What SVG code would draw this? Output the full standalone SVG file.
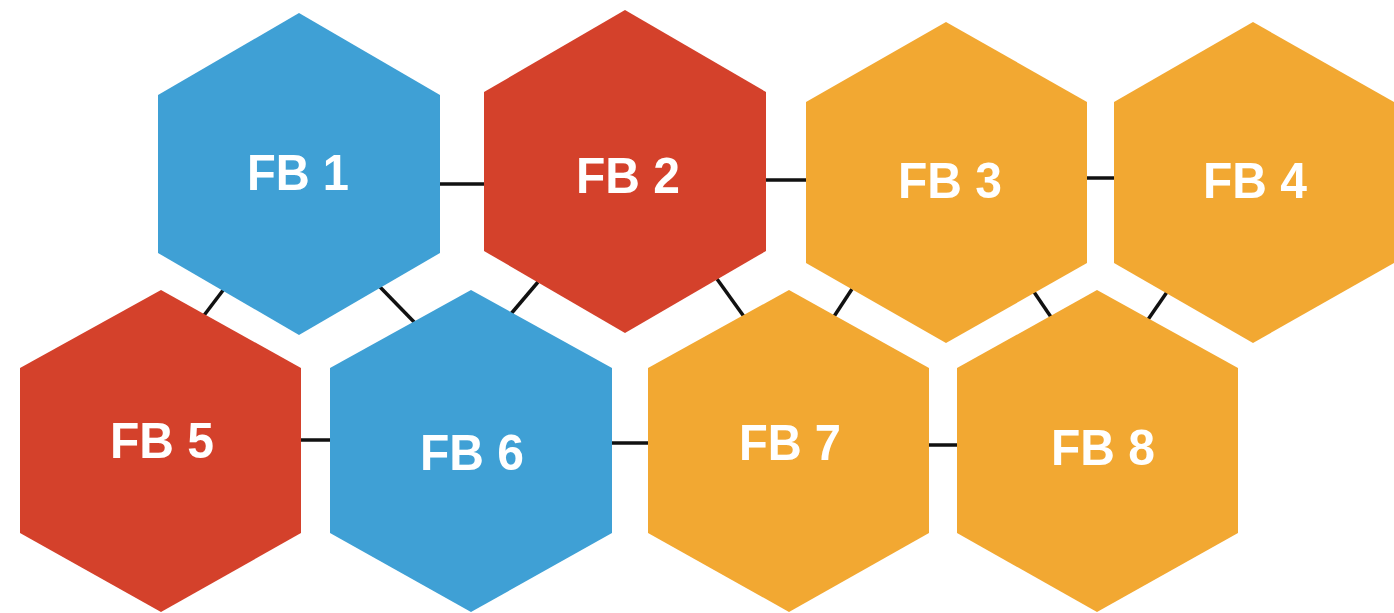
<svg xmlns="http://www.w3.org/2000/svg" width="1394" height="613" viewBox="0 0 1394 613">
<style>
.blue{fill:#3fa0d5}
.red{fill:#d4412b}
.orange{fill:#f2a832}
.lbl{font-family:"Liberation Sans",Arial,sans-serif;font-weight:bold;font-size:50px;fill:#ffffff;text-anchor:middle}
.con line{stroke:#111;stroke-width:3.5}
</style>
<rect width="1394" height="613" fill="#ffffff"/>
<g id="connectors" class="con">
<line x1="438" y1="184" x2="486" y2="184"/>
<line x1="763" y1="180" x2="808" y2="180"/>
<line x1="1085" y1="178" x2="1116" y2="178"/>
<line x1="299" y1="440" x2="332" y2="440"/>
<line x1="610" y1="443" x2="650" y2="443"/>
<line x1="927" y1="445" x2="959" y2="445"/>
<line x1="224" y1="289" x2="202" y2="318"/>
<line x1="380" y1="287" x2="417" y2="325"/>
<line x1="538" y1="282" x2="510" y2="315"/>
<line x1="717" y1="279" x2="745" y2="318"/>
<line x1="852" y1="289" x2="833" y2="318"/>
<line x1="1034" y1="292" x2="1053" y2="320"/>
<line x1="1167" y1="292" x2="1147" y2="321"/>
</g>
<g id="fb1"><polygon class="blue" points="299,13 440,95 440,253 299,335 158,253 158,95"/><text class="lbl" x="298" y="190" textLength="102" lengthAdjust="spacingAndGlyphs">FB 1</text></g>
<g id="fb2"><polygon class="red" points="625,10 766,92 766,251 625,333 484,251 484,92"/><text class="lbl" x="628" y="193" textLength="104" lengthAdjust="spacingAndGlyphs">FB 2</text></g>
<g id="fb3"><polygon class="orange" points="946,22 1087,102 1087,263 946,343 806,263 806,102"/><text class="lbl" x="950" y="198" textLength="104" lengthAdjust="spacingAndGlyphs">FB 3</text></g>
<g id="fb4"><polygon class="orange" points="1253,22 1394,102 1394,263 1253,343 1114,263 1114,102"/><text class="lbl" x="1255" y="198" textLength="104" lengthAdjust="spacingAndGlyphs">FB 4</text></g>
<g id="fb5"><polygon class="red" points="161,290 301,368 301,533 161,612 20,533 20,368"/><text class="lbl" x="162" y="458" textLength="104" lengthAdjust="spacingAndGlyphs">FB 5</text></g>
<g id="fb6"><polygon class="blue" points="471,290 612,368 612,533 471,612 330,533 330,368"/><text class="lbl" x="472" y="470" textLength="104" lengthAdjust="spacingAndGlyphs">FB 6</text></g>
<g id="fb7"><polygon class="orange" points="789,290 929,368 929,533 789,612 648,533 648,368"/><text class="lbl" x="790" y="460" textLength="102" lengthAdjust="spacingAndGlyphs">FB 7</text></g>
<g id="fb8"><polygon class="orange" points="1097,290 1238,368 1238,533 1097,612 957,533 957,368"/><text class="lbl" x="1103" y="465" textLength="104" lengthAdjust="spacingAndGlyphs">FB 8</text></g>
</svg>
